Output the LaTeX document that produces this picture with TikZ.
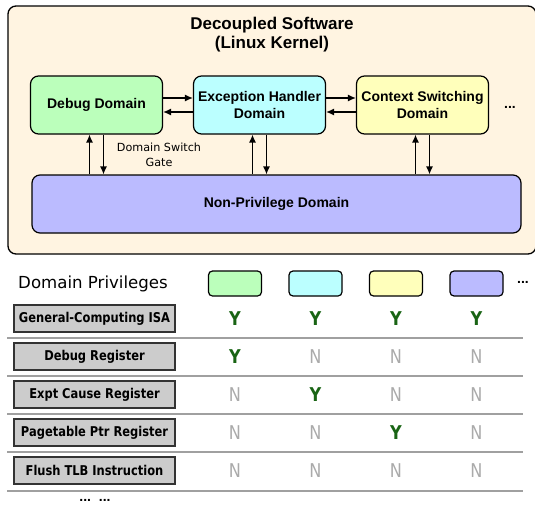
\documentclass[tikz,border=0pt]{standalone}
\usepackage{fontspec}
\setmainfont{Liberation Sans}
\newfontfamily\tahoma{DejaVu Sans}
\newfontfamily\tahomanarrow[FakeStretch=0.85]{DejaVu Sans}
\usetikzlibrary{arrows.meta,positioning}
\definecolor{kernelbg}{RGB}{255,244,225}
\definecolor{dbggreen}{RGB}{187,255,187}
\definecolor{exccyan}{RGB}{187,255,255}
\definecolor{ctxyellow}{RGB}{255,255,187}
\definecolor{nonprivblue}{RGB}{187,187,255}
\definecolor{regfill}{RGB}{204,204,204}
\definecolor{yesgreen}{RGB}{25,100,20}
\definecolor{nogray}{RGB}{170,170,170}
\definecolor{rulegray}{RGB}{160,160,160}
\begin{document}
\begin{tikzpicture}[x=1pt, y=-1pt, on grid, node distance=163pt,
  >={Latex[length=8pt,width=7pt]},
  dombox/.style={draw, line width=1.2pt, rounded corners=8pt, minimum width=132pt, minimum height=58pt,
    inner sep=0pt, align=center, font=\fontsize{14}{17}\selectfont\bfseries},
  swatch/.style={draw, line width=1.2pt, rounded corners=4pt, minimum width=53pt, minimum height=25pt},
  regbox/.style={draw=black!80, fill=regfill, line width=1.8pt, minimum width=161pt, minimum height=27pt,
    inner sep=0pt, font=\tahomanarrow\fontsize{13.5}{16}\selectfont\bfseries},
  yes/.style={text=yesgreen, font=\tahomanarrow\fontsize{19}{20}\selectfont\bfseries},
  no/.style={text=nogray, font=\tahomanarrow\fontsize{19}{20}\selectfont},
  gatearrow/.style={->, line width=1.3pt},
  rowline/.style={draw=rulegray, line width=1.4pt}]
  \useasboundingbox (0,0) rectangle (535,506);

  % kernel part
  \node[draw, fill=kernelbg, rounded corners=8pt, line width=1.3pt, minimum width=528pt, minimum height=248pt] (kernel) at (272,130) {};
  \node[align=center, font=\fontsize{17}{19}\selectfont\bfseries] (title) at (272,35) {Decoupled Software\\(Linux Kernel)};

  \node[dombox, fill=dbggreen] (debug) at (96.5,105) {\raisebox{-2pt}{Debug Domain}};
  \node[dombox, fill=exccyan, right=of debug] (exception) {Exception Handler\\Domain};
  \node[dombox, fill=ctxyellow, right=of exception] (context) {Context Switching\\Domain};
  \node[font=\fontsize{14}{14}\selectfont\bfseries] (moredom) at (510,107) {...};
  \node[dombox, fill=nonprivblue, minimum width=489pt] (nonpriv) at (276.5,204) {Non-Privilege Domain};
  \node[align=center, font=\tahoma\fontsize{11.2}{15}\selectfont] (gate) at (159,154.5) {Domain Switch\\Gate};

  \draw[gatearrow] ([yshift=7pt]debug.east) -- ([yshift=7pt]exception.west);
  \draw[gatearrow] ([yshift=-7pt]exception.west) -- ([yshift=-7pt]debug.east);
  \draw[gatearrow] ([yshift=7pt]exception.east) -- ([yshift=7pt]context.west);
  \draw[gatearrow] ([yshift=-7pt]context.west) -- ([yshift=-7pt]exception.east);
  \foreach \dom in {debug, exception, context} {
    \draw[gatearrow] ([xshift=-7pt]\dom.south |- nonpriv.north) -- ([xshift=-7pt]\dom.south);
    \draw[gatearrow] ([xshift=7pt]\dom.south) -- ([xshift=7pt]\dom.south |- nonpriv.north);
  }

  % privilege table
  \node[font=\tahoma\fontsize{16.6}{18}\selectfont] (privhead) at (93,284) {Domain Privileges};
  \node[swatch, fill=dbggreen] (sw1) at (235,283.5) {};
  \node[swatch, fill=exccyan, right=80.5pt of sw1] (sw2) {};
  \node[swatch, fill=ctxyellow, right=80.5pt of sw2] (sw3) {};
  \node[swatch, fill=nonprivblue, right=80.5pt of sw3] (sw4) {};
  \node[font=\fontsize{14}{14}\selectfont\bfseries] (moresw) at (523,282) {...};

  \node[regbox] (isa) at (94.5,318.5) {General-Computing ISA};
  \node[regbox, below=38pt of isa] (dbgreg) {Debug Register};
  \node[regbox, below=38pt of dbgreg] (cause) {Expt Cause Register};
  \node[regbox, below=38pt of cause] (ptbr) {Pagetable Ptr Register};
  \node[regbox, below=38pt of ptbr] (tlb) {Flush TLB Instruction};
  \node[font=\fontsize{14}{14}\selectfont\bfseries] (morereg) at (95,500) {...\ \ ...};

  \node[yes] (isa1) at (sw1 |- isa) {Y};
  \node[yes] (isa2) at (sw2 |- isa) {Y};
  \node[yes] (isa3) at (sw3 |- isa) {Y};
  \node[yes] (isa4) at (sw4 |- isa) {Y};
  \node[yes] (dbgreg1) at (sw1 |- dbgreg) {Y};
  \node[no] (dbgreg2) at (sw2 |- dbgreg) {N};
  \node[no] (dbgreg3) at (sw3 |- dbgreg) {N};
  \node[no] (dbgreg4) at (sw4 |- dbgreg) {N};
  \node[no] (cause1) at (sw1 |- cause) {N};
  \node[yes] (cause2) at (sw2 |- cause) {Y};
  \node[no] (cause3) at (sw3 |- cause) {N};
  \node[no] (cause4) at (sw4 |- cause) {N};
  \node[no] (ptbr1) at (sw1 |- ptbr) {N};
  \node[no] (ptbr2) at (sw2 |- ptbr) {N};
  \node[yes] (ptbr3) at (sw3 |- ptbr) {Y};
  \node[no] (ptbr4) at (sw4 |- ptbr) {N};
  \node[no] (tlb1) at (sw1 |- tlb) {N};
  \node[no] (tlb2) at (sw2 |- tlb) {N};
  \node[no] (tlb3) at (sw3 |- tlb) {N};
  \node[no] (tlb4) at (sw4 |- tlb) {N};

  \draw[rowline] (7,338) -- (523,338);
  \draw[rowline] (7,376) -- (523,376);
  \draw[rowline] (7,414) -- (523,414);
  \draw[rowline] (7,452) -- (523,452);
  \draw[rowline] (7,491) -- (523,491);
\end{tikzpicture}
\end{document}
